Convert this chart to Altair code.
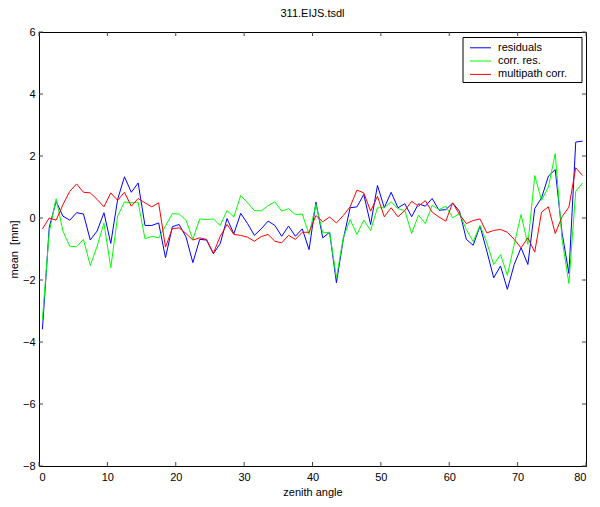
import altair as alt
import pandas as pd

FONT = "Liberation Sans"

series_names = ["residuals", "corr. res.", "multipath corr."]
series_colors = ["#0000ff", "#00ff00", "#ff0000"]
chart_title = "311.EIJS.tsdl"

zenith = [k + 0.5 for k in range(80)]

residuals = [
    -3.59, -0.30, 0.54, 0.06, -0.07, 0.17, 0.13, -0.71, -0.42, 0.17,
    -0.82, 0.60, 1.33, 0.83, 1.13, -0.24, -0.24, -0.16, -1.28, -0.28,
    -0.21, -0.61, -1.44, -0.69, -0.71, -1.15, -0.83, -0.02, -0.51, 0.15,
    -0.18, -0.56, -0.35, -0.10, -0.24, -0.59, -0.26, -0.59, -0.35, -1.02,
    0.51, -0.64, -0.46, -2.09, -0.69, 0.33, 0.36, 0.76, -0.21, 1.05,
    0.33, 0.83, 0.33, 0.46, 0.04, 0.46, 0.38, 0.63, 0.25, 0.27,
    0.48, 0.22, -0.69, -0.88, -0.26, -1.07, -1.93, -1.55, -2.30, -1.50,
    -0.96, -1.50, 0.30, 0.65, 1.35, 1.56, -0.48, -1.79, 2.45, 2.48,
]

corr_res = [
    -3.27, -0.45, 0.62, -0.42, -0.91, -0.93, -0.69, -1.53, -0.91, -0.16,
    -1.60, 0.06, 0.52, 0.49, 0.51, -0.67, -0.59, -0.64, -0.26, 0.14,
    0.13, -0.07, -0.69, -0.03, -0.05, -0.03, -0.24, 0.24, 0.03, 0.73,
    0.49, 0.24, 0.23, 0.40, 0.52, 0.22, 0.30, 0.11, 0.13, -0.53,
    0.44, -0.48, -0.46, -1.93, -0.64, -0.05, -0.53, -0.07, -0.40, 0.33,
    0.33, 0.52, 0.30, 0.24, -0.50, 0.09, -0.18, 0.41, 0.27, 0.38,
    0.01, 0.14, -0.37, -0.76, -0.24, -0.80, -1.50, -1.18, -1.85, -0.85,
    0.11, -0.85, 1.37, 0.57, 1.00, 2.08, -0.69, -2.11, 0.86, 1.13,
]

multipath = [
    -0.35, 0.00, -0.07, 0.43, 0.86, 1.10, 0.83, 0.81, 0.60, 0.36,
    0.81, 0.57, 0.83, 0.38, 0.63, 0.49, 0.36, 0.49, -0.94, -0.34,
    -0.32, -0.50, -0.71, -0.64, -0.69, -1.14, -0.59, -0.21, -0.53, -0.56,
    -0.62, -0.75, -0.60, -0.53, -0.75, -0.80, -0.56, -0.69, -0.46, -0.46,
    0.08, -0.12, 0.03, -0.16, 0.08, 0.36, 0.90, 0.81, 0.22, 0.70,
    0.04, 0.33, 0.04, 0.24, 0.54, 0.38, 0.56, 0.19, 0.03, -0.10,
    0.49, 0.11, -0.18, -0.08, -0.03, -0.48, -0.40, -0.37, -0.46, -0.69,
    -0.96, -0.64, -1.10, 0.19, 0.36, -0.50, 0.04, 0.35, 1.62, 1.37,
]

x_ticks = [0, 10, 20, 30, 40, 50, 60, 70, 80]
y_ticks = [-8, -6, -4, -2, 0, 2, 4, 6]

W, H = 547, 434

rows = []
for name, vals in zip(series_names, [residuals, corr_res, multipath]):
    for z, v in zip(zenith, vals):
        rows.append({"zenith": z, "mean": v, "series": name})
df = pd.DataFrame(rows)

xscale = alt.Scale(domain=[0, 80], nice=False, zero=False)
yscale = alt.Scale(domain=[-8, 6], nice=False, zero=False)
x_axis = alt.Axis(values=x_ticks, title="zenith angle", format="d",
                  labelPadding=5, titlePadding=4)
y_axis = alt.Axis(values=y_ticks, title="mean\u00a0 [mm]", format="d",
                  labelPadding=4, titlePadding=2.5)

lines = alt.Chart(df).mark_line(strokeWidth=1, clip=True).encode(
    x=alt.X("zenith:Q", scale=xscale, axis=x_axis),
    y=alt.Y("mean:Q", scale=yscale, axis=y_axis),
    color=alt.Color("series:N", scale=alt.Scale(domain=series_names, range=series_colors),
                    legend=None),
    detail="series:N",
)

xt = pd.DataFrame({"t": x_ticks})
yt = pd.DataFrame({"t": y_ticks})
TICK = "#444444"
tick_len = 4

xt_bottom = alt.Chart(xt).mark_rule(color=TICK, strokeWidth=1).encode(
    x=alt.X("t:Q", scale=xscale, axis=x_axis), y=alt.value(H), y2=alt.value(H - tick_len))
xt_top = alt.Chart(xt).mark_rule(color=TICK, strokeWidth=1).encode(
    x=alt.X("t:Q", scale=xscale, axis=x_axis), y=alt.value(0), y2=alt.value(tick_len))
yt_left = alt.Chart(yt).mark_rule(color=TICK, strokeWidth=1).encode(
    y=alt.Y("t:Q", scale=yscale, axis=y_axis), x=alt.value(0), x2=alt.value(tick_len))
yt_right = alt.Chart(yt).mark_rule(color=TICK, strokeWidth=1).encode(
    y=alt.Y("t:Q", scale=yscale, axis=y_axis), x=alt.value(W), x2=alt.value(W - tick_len))

# title as text mark
title_layer = alt.Chart(alt.Data(values=[{"t": chart_title}])).mark_text(
    align="center", baseline="alphabetic", font=FONT, fontSize=11, color="black").encode(
    text="t:N", x=alt.value(W / 2), y=alt.value(-15.5))

# legend box (manual, MATLAB style)
box = alt.Chart(alt.Data(values=[{"a": 1}])).mark_rect(
    fill="white", stroke="black", strokeWidth=1).encode(
    x=alt.value(424), x2=alt.value(543), y=alt.value(5.5), y2=alt.value(50.5))

legend_layers = [box]
row_y = [15.8, 29.0, 42.4]
for name, col, ry in zip(series_names, series_colors, row_y):
    d = alt.Data(values=[{"name": name}])
    legend_layers.append(
        alt.Chart(d).mark_rule(color=col, strokeWidth=1).encode(
            x=alt.value(431), x2=alt.value(452), y=alt.value(ry)))
    legend_layers.append(
        alt.Chart(d).mark_text(align="left", baseline="middle", font=FONT,
                               fontSize=11, color="black").encode(
            text="name:N", x=alt.value(459), y=alt.value(ry)))

chart = alt.layer(lines, xt_bottom, xt_top, yt_left, yt_right, title_layer,
                  *legend_layers).properties(
    width=W, height=H,
    autosize=alt.AutoSizeParams(type="none"),
    padding={"left": 31, "top": 24, "right": 6, "bottom": 32},
    background="white",
).configure_view(
    stroke="black", strokeWidth=1
).configure_axis(
    grid=False, ticks=False, domainColor="black", domainWidth=1,
    labelFont=FONT, labelFontSize=11, labelColor="black",
    titleFont=FONT, titleFontSize=11, titleFontWeight="normal", titleColor="black",
)

chart.save("out.html", embed_options={"renderer": "svg", "actions": False})
